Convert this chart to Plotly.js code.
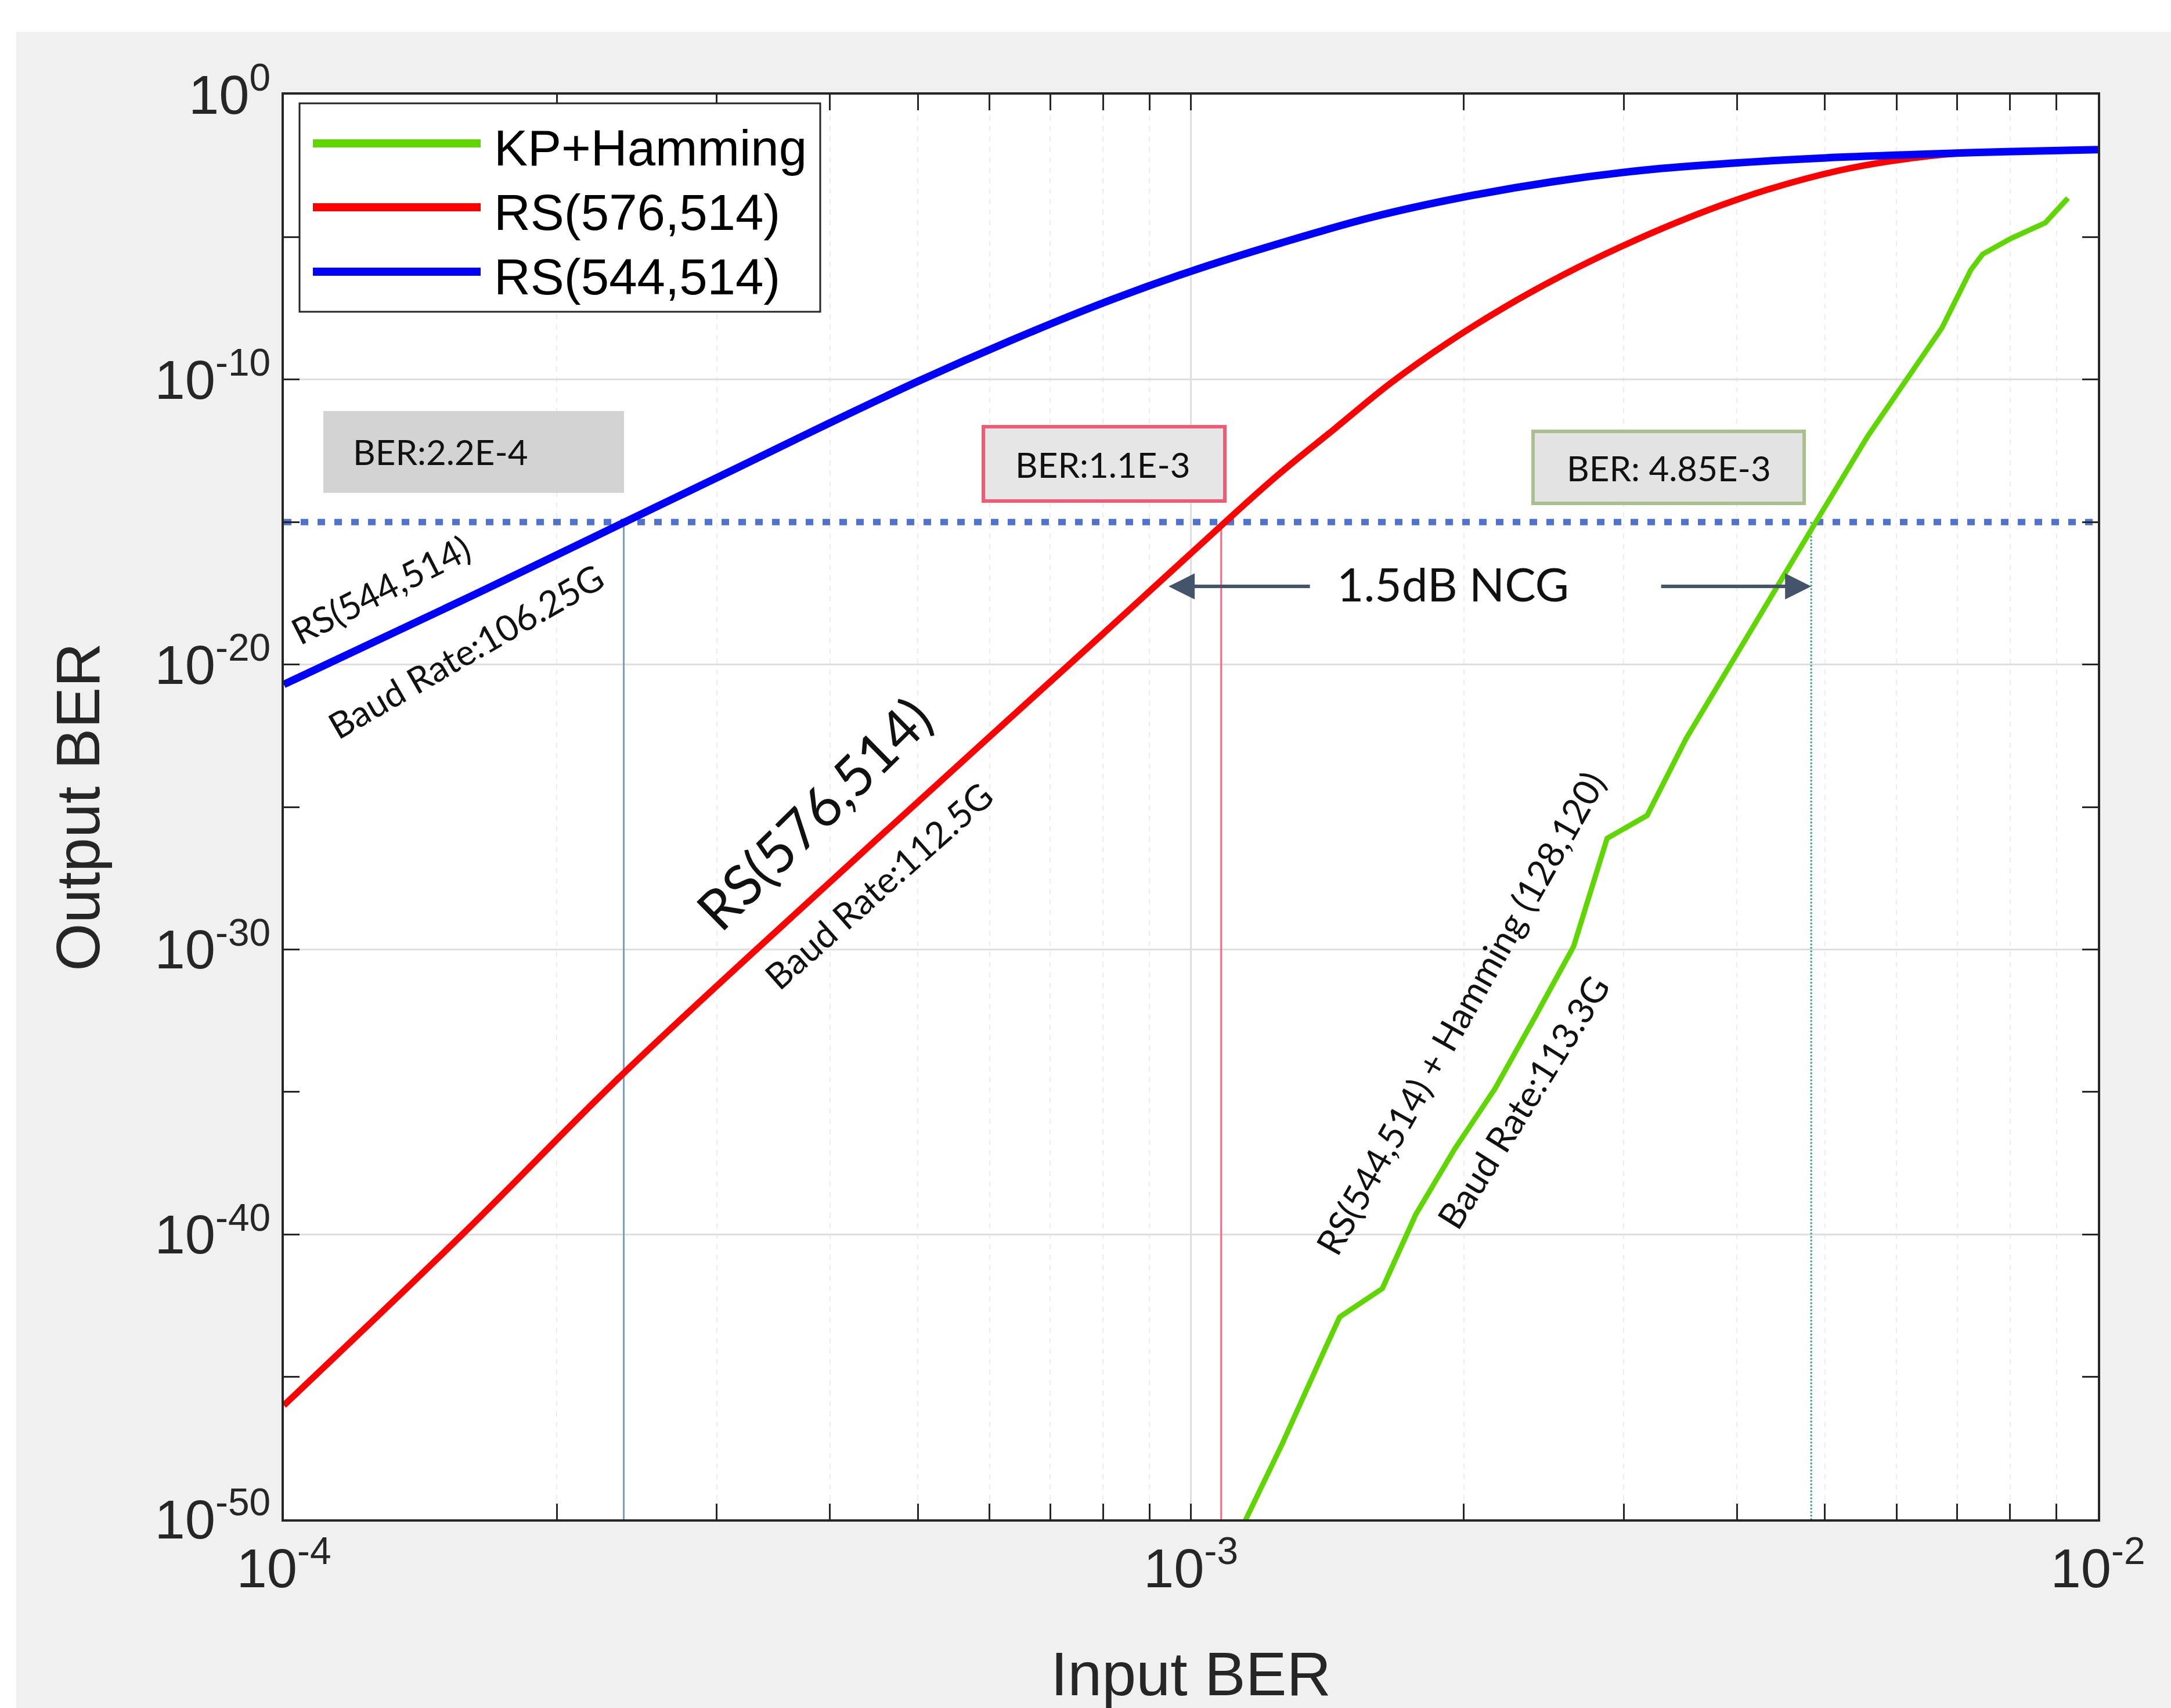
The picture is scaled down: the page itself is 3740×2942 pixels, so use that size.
<!DOCTYPE html>
<html>
<head>
<meta charset="utf-8">
<script src="https://cdn.plot.ly/plotly-3.0.1.min.js"></script>
<style>
html,body{margin:0;padding:0;background:#ffffff;}
#chart{position:absolute;left:28px;top:55px;width:3712px;height:2887px;}
</style>
</head>
<body>
<div id="chart"></div>
<script>
// ---------------- data ----------------
const seriesNames  = ['KP+Hamming', 'RS(576,514)', 'RS(544,514)'];
const seriesColors = ['#5fd600', '#ff0000', '#0000ff'];
const seriesWidths = [9, 11, 13];

const kpHammingInputBER = [1.138e-3, 1.259e-3, 1.409e-3, 1.459e-3, 1.626e-3, 1.770e-3, 1.954e-3, 2.163e-3,
  2.393e-3, 2.642e-3, 2.877e-3, 3.184e-3, 3.516e-3, 3.882e-3, 4.345e-3, 4.887e-3, 5.572e-3, 6.166e-3,
  6.730e-3, 7.244e-3, 7.464e-3, 8.017e-3, 8.750e-3, 9.268e-3];
const kpHammingOutputBER = [5.01e-51, 3.98e-48, 1.12e-44, 1.26e-43, 1.26e-42, 5.01e-40, 1.0e-37, 1.26e-35,
  3.98e-33, 1.26e-30, 7.94e-27, 5.01e-26, 2.51e-23, 5.01e-21, 1.78e-18, 1.0e-15, 1.0e-12, 1.10e-10,
  6.46e-9, 7.08e-7, 2.51e-6, 8.91e-6, 3.16e-5, 2.34e-4];

const rs576InputBER = [1.0e-4, 1.585e-4, 2.377e-4, 3.981e-4, 6.310e-4, 7.889e-4, 1.0e-3, 1.242e-3, 1.439e-3,
  1.663e-3, 1.923e-3, 2.223e-3, 2.576e-3, 2.979e-3, 3.443e-3, 3.990e-3, 4.613e-3, 5.333e-3, 6.166e-3,
  7.129e-3, 8.260e-3, 1.0e-2];
const rs576OutputBER = [1.0e-46, 1.26e-40, 5.01e-35, 2.0e-28, 1.26e-22, 7.94e-20, 7.94e-17, 3.98e-14, 1.82e-12,
  7.76e-11, 2.04e-9, 3.63e-8, 4.79e-7, 4.57e-6, 3.39e-5, 2.0e-4, 8.51e-4, 2.63e-3, 5.62e-3,
  8.91e-3, 1.02e-2, 1.17e-2];

const rs544InputBER = [1.0e-4, 1.585e-4, 2.377e-4, 3.162e-4, 3.981e-4, 5.012e-4, 6.310e-4, 7.943e-4, 1.0e-3,
  1.259e-3, 1.585e-3, 1.995e-3, 2.512e-3, 3.162e-3, 3.981e-3, 5.012e-3, 6.310e-3, 7.943e-3, 1.0e-2];
const rs544OutputBER = [2.0e-21, 2.0e-18, 1.0e-15, 7.94e-14, 2.82e-12, 8.91e-11, 2.24e-9, 4.47e-8, 6.31e-7,
  6.31e-6, 5.01e-5, 2.51e-4, 8.91e-4, 2.24e-3, 3.98e-3, 6.03e-3, 7.94e-3, 1.0e-2, 1.17e-2];

const targetOutputBER   = 1e-15;
const crossingInputBER  = [2.37e-4, 1.08e-3, 4.83e-3];
const crossingColors    = ['#6fa0d2', '#f46a80', '#2aa67f'];
const crossingDash      = ['solid', 'solid', 'dot'];
const crossingLabels    = ['BER:2.2E-4', 'BER:1.1E-3', 'BER: 4.85E-3'];
const ncgLabel          = '1.5dB NCG';
const ncgArrowHeadBER   = [9.45e-4, 4.83e-3];
const ncgArrowLevelBER  = 5.5e-18;

const xRangeBER  = [1e-4, 1e-2];
const yRangeBER  = [1e-50, 1];
const xTickVals  = [1e-4, 1e-3, 1e-2];
const xTickText  = ['10<sup>-4</sup>', '10<sup>-3</sup>', '10<sup>-2</sup>'];
const xMinorVals = [2e-4, 3e-4, 4e-4, 5e-4, 6e-4, 7e-4, 8e-4, 9e-4, 2e-3, 3e-3, 4e-3, 5e-3, 6e-3, 7e-3, 8e-3, 9e-3];
const yTickVals  = [1e-50, 1e-40, 1e-30, 1e-20, 1e-10, 1];
const yTickText  = ['10<sup>-50</sup>', '10<sup>-40</sup>', '10<sup>-30</sup>', '10<sup>-20</sup>', '10<sup>-10</sup>', '10<sup>0</sup>'];
const yMinorVals = [1e-45, 1e-35, 1e-25, 1e-15, 1e-5];

const curveLabels = [
  {text: 'RS(544,514)',                      X: 655,  Y: 1015, angle: -27,   size: 62},
  {text: 'Baud Rate:106.25G',                X: 802,  Y: 1121, angle: -30,   size: 62},
  {text: 'RS(576,514)',                      X: 1400, Y: 1400, angle: -44.5, size: 96},
  {text: 'Baud Rate:112.5G',                 X: 1513, Y: 1525, angle: -41.6, size: 62},
  {text: 'RS(544,514) + Hamming (128,120)',  X: 2515, Y: 1745, angle: -60.5, size: 62},
  {text: 'Baud Rate:113.3G',                 X: 2623, Y: 1898, angle: -58,   size: 62}
];

// ---------------- layout helpers (page pixel -> paper) ----------------
const DIVX = 28, DIVY = 55, W = 3712, H = 2887;
const PL = 489, PR = 3614, PT = 163, PB = 2617;
const px = X => (X - PL) / (PR - PL);
const py = Y => (PB - Y) / (PB - PT);
const ARIAL = 'Liberation Sans, Arial, sans-serif';
const CALI = 'Lato, Open Sans, sans-serif';
const AXC = '#262626';

// ---------------- traces ----------------
const traces = [];
crossingInputBER.forEach((c, i) => {
  traces.push({x: [c, c], y: [targetOutputBER, yRangeBER[0]], mode: 'lines', type: 'scatter',
    line: {color: crossingColors[i], width: 3, dash: crossingDash[i]}, showlegend: false, hoverinfo: 'skip'});
});
traces.push({x: xRangeBER, y: [targetOutputBER, targetOutputBER], mode: 'lines', type: 'scatter',
  line: {color: '#4f72cf', width: 11, dash: '13px,16px'}, showlegend: false, hoverinfo: 'skip'});
const xs = [kpHammingInputBER, rs576InputBER, rs544InputBER];
const ys = [kpHammingOutputBER, rs576OutputBER, rs544OutputBER];
const lineShapes = ['linear', 'spline', 'spline'];
for (let i = 0; i < 3; i++) {
  traces.push({x: xs[i], y: ys[i], name: seriesNames[i], mode: 'lines', type: 'scatter',
    line: {color: seriesColors[i], width: seriesWidths[i], shape: lineShapes[i], smoothing: 1.0},
    showlegend: false});
}

// ---------------- shapes & annotations ----------------
const shapes = [];
const annotations = [];

// custom legend (long line samples as in the reference)
shapes.push({type: 'rect', xref: 'paper', yref: 'paper', x0: px(516), x1: px(1413), y0: py(537), y1: py(178),
  fillcolor: '#ffffff', line: {color: AXC, width: 3}, layer: 'above'});
const legRowY = [247, 357, 468];
for (let i = 0; i < 3; i++) {
  shapes.push({type: 'line', xref: 'paper', yref: 'paper', x0: px(539), x1: px(828), y0: py(legRowY[i]), y1: py(legRowY[i]),
    line: {color: seriesColors[i], width: 14}, layer: 'above'});
  annotations.push({xref: 'paper', yref: 'paper', x: px(849), y: py(legRowY[i] + 8), xanchor: 'left', yanchor: 'middle',
    text: seriesNames[i], showarrow: false, font: {family: ARIAL, size: 87, color: '#000000'}});
}

// crossing label boxes
const boxes = [
  {x0: 557, x1: 1075, y0: 708, y1: 849, fill: '#d3d3d3', line: 'rgba(0,0,0,0)', lw: 0, tx: 759, ty: 778},
  {x0: 1694, x1: 2110, y0: 735, y1: 863, fill: '#e6e6e6', line: '#f05a74', lw: 6, tx: 1900, ty: 800},
  {x0: 2641, x1: 3108, y0: 743, y1: 867, fill: '#e3e3e3', line: '#a9bf8e', lw: 6, tx: 2875, ty: 806}
];
boxes.forEach((b, i) => {
  shapes.push({type: 'rect', xref: 'paper', yref: 'paper', x0: px(b.x0), x1: px(b.x1), y0: py(b.y1), y1: py(b.y0),
    fillcolor: b.fill, line: {color: b.line, width: b.lw}, layer: 'above'});
  annotations.push({xref: 'paper', yref: 'paper', x: px(b.tx), y: py(b.ty), xanchor: 'center', yanchor: 'middle',
    text: crossingLabels[i], showarrow: false, font: {family: CALI, size: 60, color: '#111111'}});
});

// NCG text and arrows
annotations.push({xref: 'paper', yref: 'paper', x: px(2503), y: py(1005), xanchor: 'center', yanchor: 'middle',
  text: ncgLabel, showarrow: false, font: {family: CALI, size: 80, color: '#111111'}});
const ncgTail = [245, -260];
ncgArrowHeadBER.forEach((h, i) => {
  annotations.push({xref: 'x', yref: 'y', x: Math.log10(h), y: Math.log10(ncgArrowLevelBER), text: '',
    showarrow: true, arrowhead: 2, arrowsize: 1.5, arrowwidth: 6, arrowcolor: '#44546a',
    ax: ncgTail[i], ay: 0, axref: 'pixel', ayref: 'pixel'});
});

// rotated curve labels
curveLabels.forEach(l => {
  annotations.push({xref: 'paper', yref: 'paper', x: px(l.X), y: py(l.Y), xanchor: 'center', yanchor: 'middle',
    text: l.text, textangle: l.angle, showarrow: false, font: {family: CALI, size: l.size, color: '#111111'}});
});

// ---------------- axes ----------------
const commonAxis = {
  type: 'log', showline: true, linewidth: 4, linecolor: AXC, mirror: 'ticks',
  ticks: 'inside', ticklen: 27, tickwidth: 3, tickcolor: AXC,
  showgrid: true, gridcolor: '#dedede', gridwidth: 3, zeroline: false,
  tickfont: {family: ARIAL, size: 94, color: AXC}, tickmode: 'array'
};

const layout = {
  width: W, height: H,
  paper_bgcolor: '#f0f0f0', plot_bgcolor: '#ffffff',
  margin: {l: PL - DIVX, r: DIVX + W - PR, t: PT - DIVY, b: DIVY + H - PB, pad: 0},
  showlegend: false,
  xaxis: Object.assign({}, commonAxis, {
    range: [Math.log10(xRangeBER[0]), Math.log10(xRangeBER[1])],
    tickvals: xTickVals, ticktext: xTickText,
    minor: {tickmode: 'array', tickvals: xMinorVals, ticks: 'inside', ticklen: 27, tickwidth: 3, tickcolor: AXC,
      showgrid: true, gridcolor: '#ececec', griddash: 'dash', gridwidth: 2},
    title: {text: 'Input BER', font: {family: ARIAL, size: 106, color: AXC}, standoff: 100}
  }),
  yaxis: Object.assign({}, commonAxis, {
    range: [Math.log10(yRangeBER[0]), Math.log10(yRangeBER[1])],
    tickvals: yTickVals, ticktext: yTickText,
    minor: {tickmode: 'array', tickvals: yMinorVals, ticks: 'inside', ticklen: 27, tickwidth: 3, tickcolor: AXC, showgrid: false},
    title: {text: 'Output BER', font: {family: ARIAL, size: 106, color: AXC}, standoff: 60}
  }),
  shapes: shapes,
  annotations: annotations
};

Plotly.newPlot('chart', traces, layout, {displayModeBar: false, staticPlot: true});
</script>
</body>
</html>
